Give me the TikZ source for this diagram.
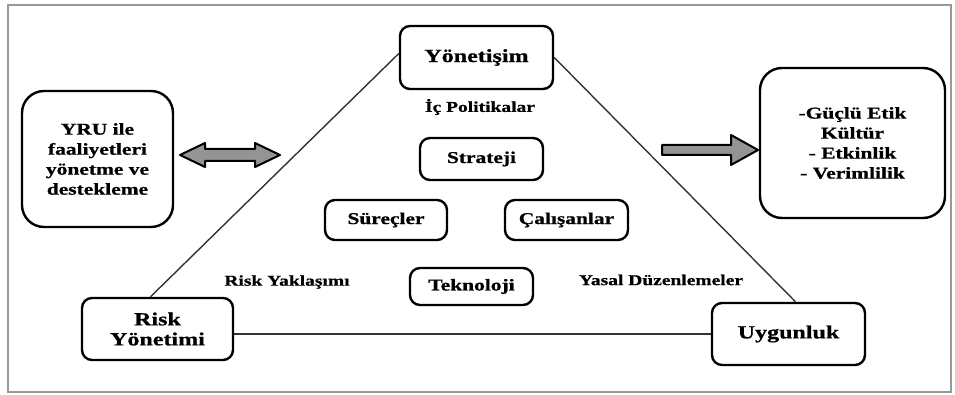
\documentclass[tikz,border=0pt]{standalone}
\usepackage{fontspec}
\newfontfamily\tb{Liberation Serif Bold}[FakeStretch=1.3, FakeBold=0.8]
\begin{document}
\begin{tikzpicture}[x=1pt,y=-1pt,
  bigf/.style={font=\tb\fontsize{18.5}{20}\selectfont},
  midf/.style={font=\tb\fontsize{16.5}{20}\selectfont},
  smallf/.style={font=\tb\fontsize{15}{18}\selectfont},
  rbox/.style={draw=black, line width=2.4pt, rounded corners=10pt, fill=white, align=center, inner sep=0pt},
  bigbox/.style={rbox, rounded corners=22pt},
  triline/.style={draw=black!80, line width=1.4pt},
  blockarrow/.style={draw=black, fill=black!42, line width=2pt, line join=round},
  frame/.style={draw=black!40, line width=2pt}]
\useasboundingbox (0,0) rectangle (955,395);
\draw[frame] (8,5) rectangle (951,392);

% triangle corner boxes
\node[rbox, bigf, minimum width=153pt, minimum height=63pt] (gov) at (476.5,57.5) {Yönetişim};
\node[rbox, bigf, minimum width=151pt, minimum height=62pt] (risk) at (157.5,329) {Risk\\Yönetimi};
\node[rbox, bigf, minimum width=153pt, minimum height=62pt] (uyg) at (788.5,334) {Uygunluk};

% triangle edges
\draw[triline] (gov.west) ++(0,-4) -- ([xshift=-7pt]risk.north);
\draw[triline] (gov.east) -- ([xshift=7pt]uyg.north);
\draw[triline] (uyg.west) -- (uyg.west -| risk.east);

% inner boxes
\node[rbox, midf, minimum width=123pt, minimum height=42pt] (strat) at (481.5,159) {Strateji};
\node[rbox, midf, minimum width=122pt, minimum height=40pt] (surec) at (386,220) {Süreçler};
\node[rbox, midf, minimum width=123pt, minimum height=40pt] (calis) at (566.5,220) {Çalışanlar};
\node[rbox, midf, minimum width=123pt, minimum height=37pt] (tekno) at (471.5,286.5) {Teknoloji};

% side labels
\node[smallf] (ic) at (480,107) {İç Politikalar};
\node[smallf] (ryak) at (287,282) {Risk Yaklaşımı};
\node[smallf] (yasal) at (661,280) {Yasal Düzenlemeler};

% side boxes
\node[bigbox, midf, minimum width=151pt, minimum height=136pt] (left) at (97.5,159) {YRU ile\\faaliyetleri\\yönetme ve\\destekleme};
\node[bigbox, midf, minimum width=185pt, minimum height=150pt] (right) at (852.5,143) {-Güçlü Etik\\Kültür\\- Etkinlik\\- Verimlilik};

% block arrows
\coordinate (da) at (180,155);
\coordinate (sa) at (662,150);
\draw[blockarrow] (da) -- ++(25,-12) -- ++(0,6) -- ++(50,0) -- ++(0,-6) -- ++(25,12)
  -- ++(-25,12) -- ++(0,-6) -- ++(-50,0) -- ++(0,6) -- cycle;
\draw[blockarrow] (sa) ++(0,-5) -- ++(69,0) -- ++(0,-10) -- ++(27,15) -- ++(-27,15)
  -- ++(0,-10) -- ++(-69,0) -- cycle;
\end{tikzpicture}
\end{document}
